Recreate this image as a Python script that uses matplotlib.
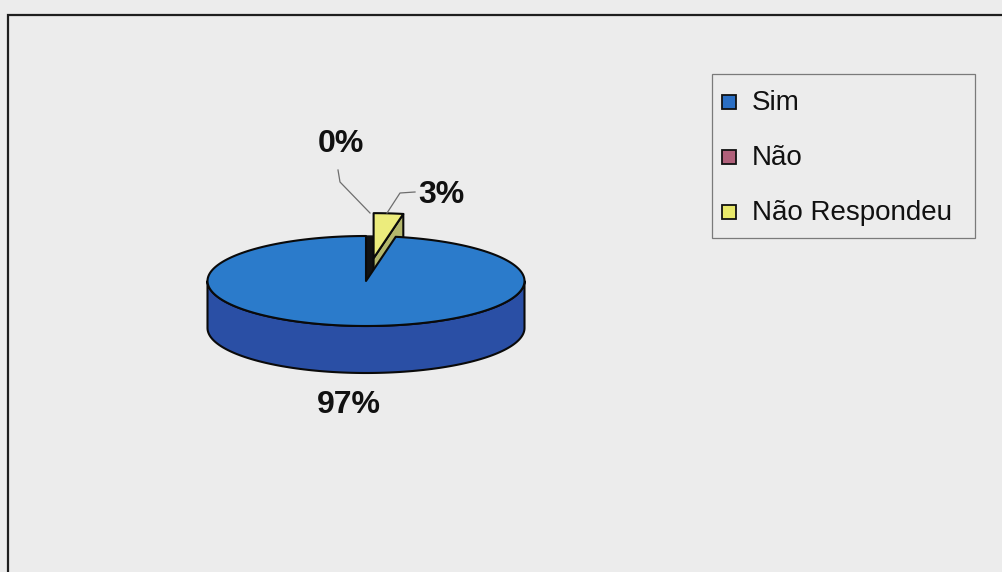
import numpy as np
import matplotlib
matplotlib.use("Agg")
import matplotlib.pyplot as plt
from matplotlib.patches import Polygon, Rectangle
from matplotlib.lines import Line2D

plt.rcParams["font.family"] = ["Liberation Sans", "DejaVu Sans"]

# Survey answers
categories = ["Sim", "Não", "Não Respondeu"]
percentages = [97, 0, 3]
top_colors = ["#2b7bcb", "#a65a78", "#ecec7c"]
side_colors = ["#2a4fa5", "#7a3f58", "#b4b86c"]
legend_colors = ["#2b6fc4", "#b0607a", "#e8e86a"]
explode = [0.0, 0.0, 0.51]

first_slice_deg = 10.8      # clockwise from 12 o'clock
cx, cy = 366.0, 281.0       # centre of the top face (pixels)
rx, ry = 158.5, 45.0        # ellipse radii of the top face
depth = 47.0                # thickness of the disc

W, H = 1002, 572
fig = plt.figure(figsize=(W / 100, H / 100), dpi=100)
fig.patch.set_facecolor("#ececec")
ax = fig.add_axes([0, 0, 1, 1])
ax.set_xlim(0, W)
ax.set_ylim(H, 0)
ax.axis("off")


def proj(theta, r, h, off=(0.0, 0.0)):
    t = np.radians(theta)
    x = cx + off[0] + r * rx * np.sin(t)
    y = cy + off[1] - r * ry * np.cos(t) + h * depth
    return np.column_stack([np.atleast_1d(x), np.atleast_1d(y)])


def arc(a0, a1, h, off):
    n = max(int(abs(a1 - a0) / 1.5) + 2, 2)
    th = np.linspace(a0, a1, n)
    return proj(th, 1.0, h, off)


# slice angle ranges
spans = []
a = first_slice_deg
for p in percentages:
    a1 = a + p / 100.0 * 360.0
    spans.append((a, a1))
    a = a1

edge_kw = dict(edgecolor="#0a0a0a", linewidth=1.5, joinstyle="round")

# dark opening left behind by exploded slices
for (a0, a1), e, p in zip(spans, explode, percentages):
    if p > 0 and e > 0:
        pts = np.vstack([proj(0, 0, 0), arc(a0, a1, 0, (0, 0))])
        ax.add_patch(Polygon(pts, closed=True, facecolor="#121212",
                             edgecolor="#121212", linewidth=1.0))

# draw back slices first
order = sorted(range(len(percentages)),
               key=lambda i: -np.cos(np.radians((spans[i][0] + spans[i][1]) / 2)))

for i in order:
    p = percentages[i]
    if p <= 0:
        continue
    a0, a1 = spans[i]
    mid = np.radians((a0 + a1) / 2)
    off = (explode[i] * rx * np.sin(mid), -explode[i] * ry * np.cos(mid))
    c_top = proj(0, 0, 0, off)
    c_bot = proj(0, 0, 1, off)

    # radial walls that face the viewer
    if np.sin(np.radians(a0)) < -1e-9:
        pts = np.vstack([c_top, proj(a0, 1, 0, off), proj(a0, 1, 1, off), c_bot])
        ax.add_patch(Polygon(pts, closed=True, facecolor=side_colors[i], **edge_kw))
    if np.sin(np.radians(a1)) > 1e-9:
        pts = np.vstack([c_top, proj(a1, 1, 0, off), proj(a1, 1, 1, off), c_bot])
        ax.add_patch(Polygon(pts, closed=True, facecolor=side_colors[i], **edge_kw))

    # outer rim on the front half of the disc
    for k in range(-1, 3):
        lo = max(a0, 90 + 360 * k)
        hi = min(a1, 270 + 360 * k)
        if hi > lo:
            top = arc(lo, hi, 0, off)
            bot = arc(hi, lo, 1, off)
            ax.add_patch(Polygon(np.vstack([top, bot]), closed=True,
                                 facecolor=side_colors[i], **edge_kw))

    # top face
    pts = np.vstack([c_top, arc(a0, a1, 0, off)])
    ax.add_patch(Polygon(pts, closed=True, facecolor=top_colors[i], **edge_kw))

# value labels with leader lines
label_pos = [(349, 413), (341, 152), (441, 203)]
leaders = [None,
           [(338, 170), (340, 182), (370, 213)],
           [(387, 213), (400, 193), (415, 192)]]
for p, (lx, ly), ld in zip(percentages, label_pos, leaders):
    ax.text(lx, ly, f"{p}%", ha="center", va="baseline",
            fontsize=23, fontweight="bold", color="#111111")
    if ld is not None:
        xs, ys = zip(*ld)
        ax.add_line(Line2D(xs, ys, color="#6e6e6e", linewidth=0.9))

# legend
ax.add_patch(Rectangle((712, 74), 263, 164, facecolor="none",
                       edgecolor="#7a7a7a", linewidth=0.9))
for k, (name, col) in enumerate(zip(categories, legend_colors)):
    yc = 102 + 55 * k
    ax.add_patch(Rectangle((722.5, yc - 7), 14, 14, facecolor=col,
                           edgecolor="#111111", linewidth=1.3))
    ax.text(752, yc + 8, name, ha="left", va="baseline",
            fontsize=20, color="#111111")

# chart area frame (left and top edges)
ax.add_line(Line2D([8.5, 8.5, W], [H, 14.5, 14.5], color="#1e1e1e",
                   linewidth=1.6, solid_joinstyle="miter"))

fig.savefig("out.png", dpi=100, facecolor=fig.get_facecolor())
